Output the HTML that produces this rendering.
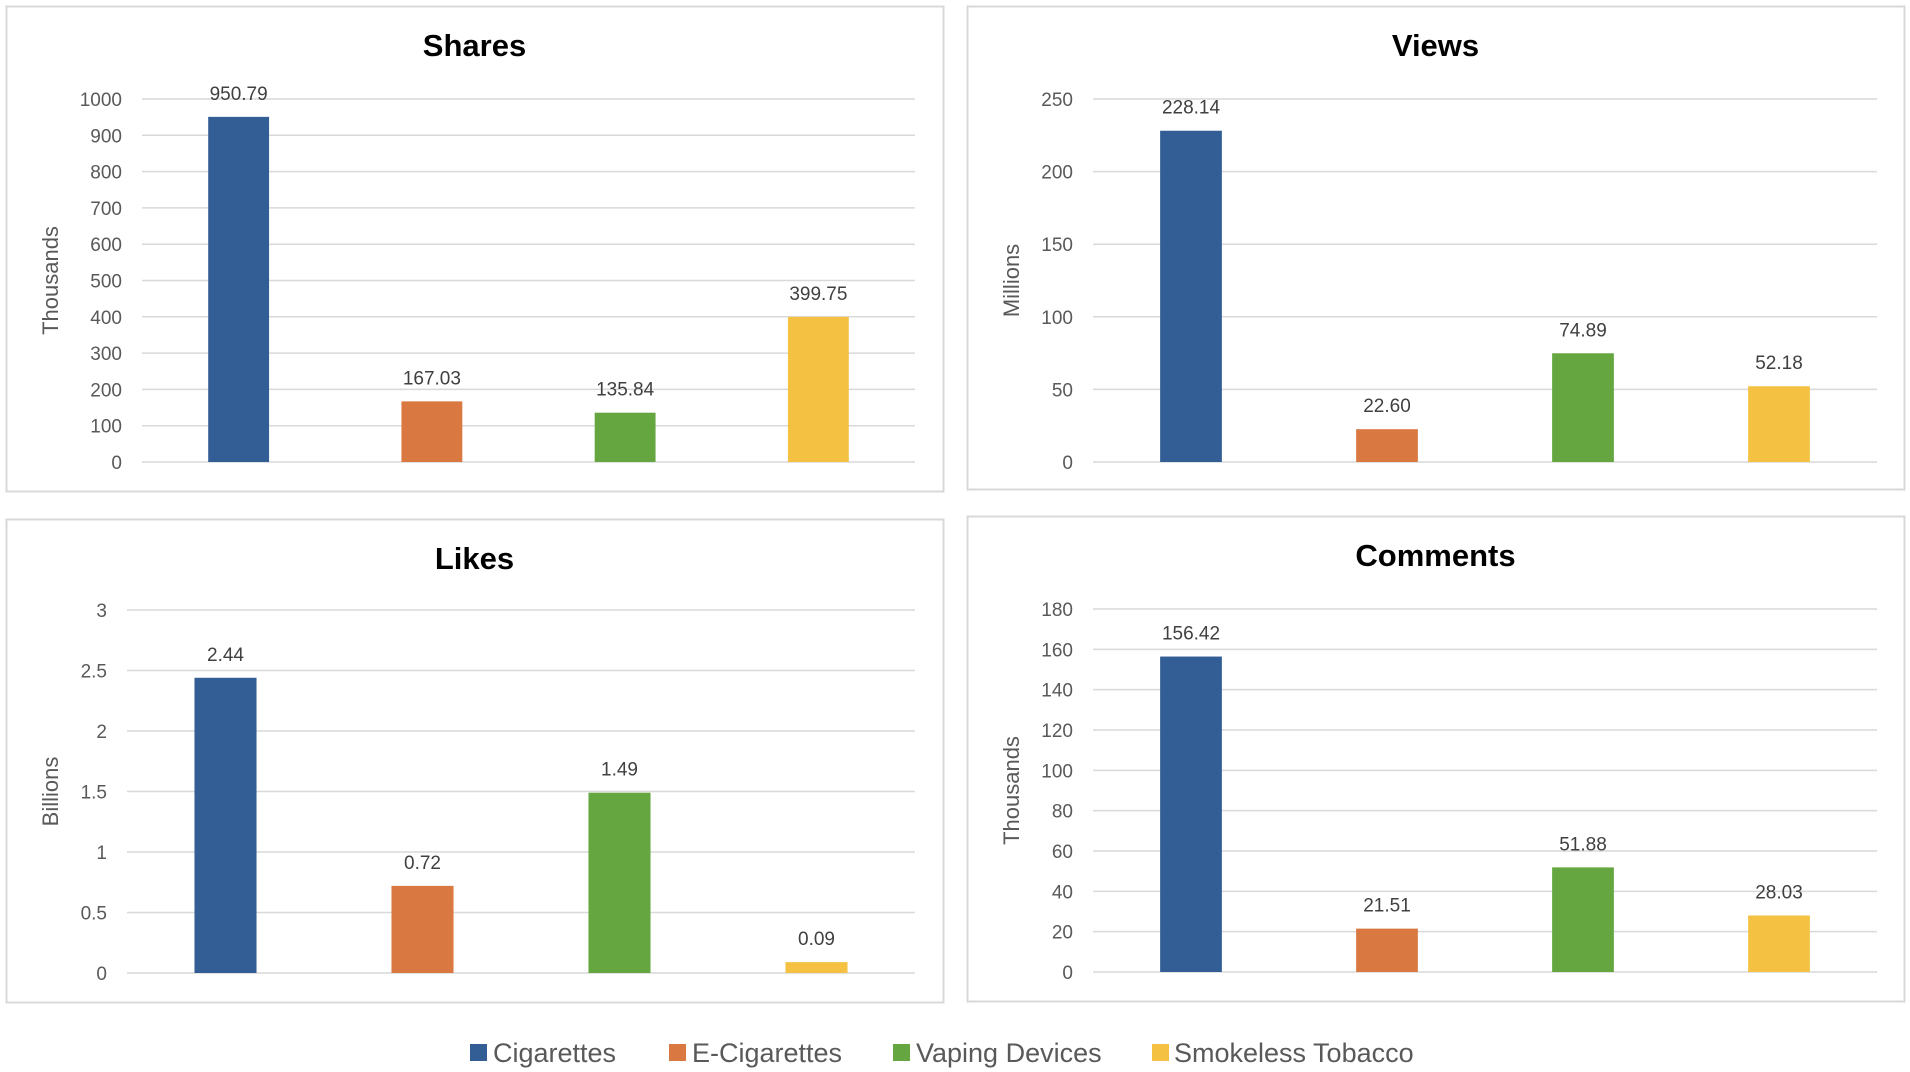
<!DOCTYPE html>
<html><head><meta charset="utf-8"><style>
body{margin:0;background:#fff;}
svg{display:block;font-family:"Liberation Sans Narrow","Liberation Sans",sans-serif;}
</style></head><body>
<svg id="c" width="1910" height="1072" viewBox="0 0 1910 1072" xmlns="http://www.w3.org/2000/svg">
<rect width="1910" height="1072" fill="#fff"/>
<g>
 <g><rect x="470" y="1044" width="17" height="17" fill="#335E95"/><text x="493" y="1062" font-size="27" fill="#595959">Cigarettes</text></g>
 <g><rect x="669" y="1044" width="17" height="17" fill="#D97841"/><text x="692" y="1062" font-size="27" fill="#595959">E-Cigarettes</text></g>
 <g><rect x="893" y="1044" width="17" height="17" fill="#66A640"/><text x="916" y="1062" font-size="27" fill="#595959">Vaping Devices</text></g>
 <g><rect x="1152" y="1044" width="17" height="17" fill="#F4C143"/><text x="1174" y="1062" font-size="27" fill="#595959">Smokeless Tobacco</text></g>
</g>
</svg>
<script>
const categories = ["Cigarettes","E-Cigarettes","Vaping Devices","Smokeless Tobacco"];
const colors = ["#335E95","#D97841","#66A640","#F4C143"];
const sharesValues = [950.79,167.03,135.84,399.75];
const viewsValues = [228.14,22.60,74.89,52.18];
const likesValues = [2.44,0.72,1.49,0.09];
const commentsValues = [156.42,21.51,51.88,28.03];
const sharesTicks = [0,100,200,300,400,500,600,700,800,900,1000];
const viewsTicks = [0,50,100,150,200,250];
const likesTicks = [0,0.5,1,1.5,2,2.5,3];
const commentsTicks = [0,20,40,60,80,100,120,140,160,180];
const svg = document.getElementById('c');
const NS = 'http://www.w3.org/2000/svg';
function mk(tag, attrs, parent, txt){
  const e = document.createElementNS(NS, tag);
  for (const k in attrs) e.setAttribute(k, attrs[k]);
  if (txt !== undefined) e.textContent = txt;
  parent.appendChild(e); return e;
}
function panel(name, title, unit, values, ticks, box, plot){
  const g = mk('g', {}, svg);
  
  
  const fr = mk('rect', {x:box[0]+0.5, y:box[1]+0.5, width:box[2]-box[0], height:box[3]-box[1], fill:'#fff', stroke:'#D9D9D9', 'stroke-width':2}, g);
  
  
  const t = mk('text', {x:(box[0]+box[2])/2, y:box[1]+50, 'font-size':31, 'font-weight':'bold', 'text-anchor':'middle', fill:'#000'}, g, title);
  
  
  const [x0,x1,yTop,yBot] = plot;
  const maxT = ticks[ticks.length-1];
  const y = v => yBot - (v/maxT)*(yBot-yTop);
  const bw = (x1-x0)/categories.length;
  ticks.forEach(tv => {
    const gl = mk('line', {x1:x0, x2:x1, y1:y(tv), y2:y(tv), stroke:'#D9D9D9', 'stroke-width':1.5}, g);
    
    
    const tl = mk('text', {x:x0-20, y:y(tv)+7, 'font-size':19, 'text-anchor':'end', fill:'#595959'}, g, String(tv));
    
    
  });
  const ay = (yTop+yBot)/2;
  const at = mk('text', {x:0, y:0, 'font-size':22, 'text-anchor':'middle', fill:'#595959', transform:`translate(${box[0]+52},${ay}) rotate(-90)`, 'font-family':'Liberation Sans, sans-serif'}, g, unit);
  
  
  values.forEach((v,i) => {
    const cx = x0 + bw*(i+0.5);
    const w = bw*0.315;
    const b = mk('rect', {x:cx-w/2, y:y(v), width:w, height:yBot-y(v), fill:colors[i]}, g);
    
    
    const l = mk('text', {x:cx, y:y(v)-17, 'font-size':19, 'text-anchor':'middle', fill:'#404040'}, g, v.toFixed(2));
    
    
  });
}
panel('shares','Shares','Thousands',sharesValues,sharesTicks,[6,6,943,491],[142,915,99,462]);
panel('views','Views','Millions',viewsValues,viewsTicks,[967,6,1904,489],[1093,1877,99,462]);
panel('likes','Likes','Billions',likesValues,likesTicks,[6,519,943,1002],[127,915,610,973]);
panel('comments','Comments','Thousands',commentsValues,commentsTicks,[967,516,1904,1001],[1093,1877,609,972]);
</script>
</body></html>
